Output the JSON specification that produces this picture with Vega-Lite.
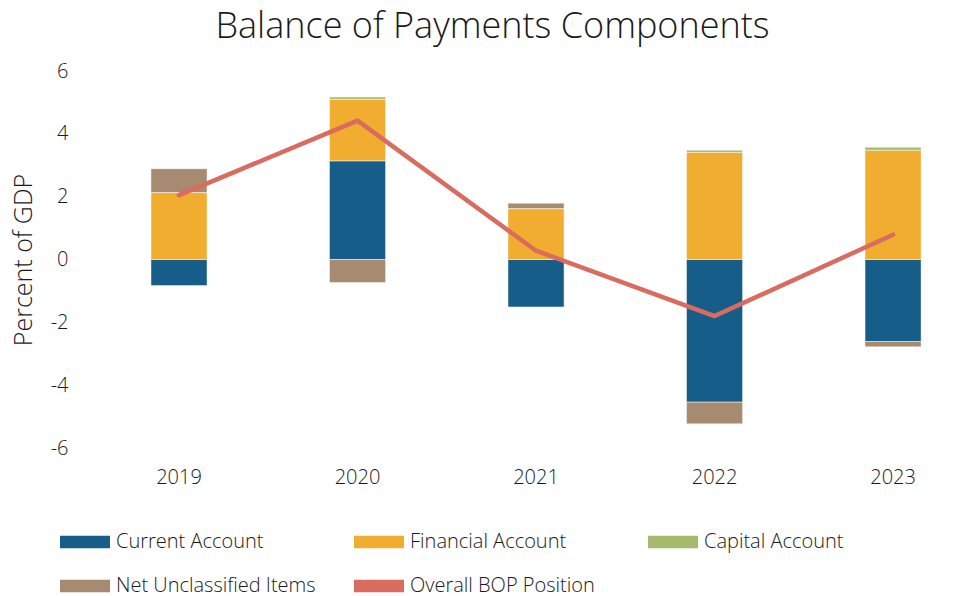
{
  "$schema": "https://vega.github.io/schema/vega-lite/v6.json",
  "width": 879,
  "height": 377,
  "autosize": {"type": "none"},
  "padding": {"left": 90, "top": 71, "right": 0, "bottom": 148},
  "background": "white",
  "config": {
    "font": "Open Sans",
    "view": {"stroke": null}
  },
  "title": {
    "text": "Balance of Payments Components",
    "fontSize": 36,
    "font": "Open Sans",
    "fontWeight": 300,
    "color": "#1a1a1a",
    "anchor": "middle",
    "dx": -37,
    "offset": 15
  },
  "datasets": {
    "bars": [
      {"year": "2019", "component": "Current Account", "ord": 1, "value": -0.83},
      {"year": "2019", "component": "Financial Account", "ord": 2, "value": 2.13},
      {"year": "2019", "component": "Capital Account", "ord": 3, "value": 0.0},
      {"year": "2019", "component": "Net Unclassified Items", "ord": 4, "value": 0.76},
      {"year": "2020", "component": "Current Account", "ord": 1, "value": 3.14},
      {"year": "2020", "component": "Financial Account", "ord": 2, "value": 1.96},
      {"year": "2020", "component": "Capital Account", "ord": 3, "value": 0.07},
      {"year": "2020", "component": "Net Unclassified Items", "ord": 4, "value": -0.73},
      {"year": "2021", "component": "Current Account", "ord": 1, "value": -1.51},
      {"year": "2021", "component": "Financial Account", "ord": 2, "value": 1.62},
      {"year": "2021", "component": "Capital Account", "ord": 3, "value": 0.0},
      {"year": "2021", "component": "Net Unclassified Items", "ord": 4, "value": 0.17},
      {"year": "2022", "component": "Current Account", "ord": 1, "value": -4.54},
      {"year": "2022", "component": "Financial Account", "ord": 2, "value": 3.41},
      {"year": "2022", "component": "Capital Account", "ord": 3, "value": 0.07},
      {"year": "2022", "component": "Net Unclassified Items", "ord": 4, "value": -0.69},
      {"year": "2023", "component": "Current Account", "ord": 1, "value": -2.61},
      {"year": "2023", "component": "Financial Account", "ord": 2, "value": 3.48},
      {"year": "2023", "component": "Capital Account", "ord": 3, "value": 0.09},
      {"year": "2023", "component": "Net Unclassified Items", "ord": 4, "value": -0.17}
    ],
    "bop": [
      {"year": "2019", "bop": 2.05},
      {"year": "2020", "bop": 4.42},
      {"year": "2021", "bop": 0.28},
      {"year": "2022", "bop": -1.8},
      {"year": "2023", "bop": 0.79}
    ]
  },
  "encoding": {
    "x": {
      "field": "year",
      "type": "nominal",
      "scale": {"paddingInner": 0.686, "paddingOuter": 0.305, "align": 0.56},
      "axis": {
        "title": null,
        "labelAngle": 0,
        "labelFontSize": 20,
        "labelFontWeight": 300,
        "labelColor": "#1a1a1a",
        "labelPadding": 19,
        "ticks": false,
        "domain": false,
        "grid": false
      }
    }
  },
  "layer": [
    {
      "data": {"name": "bars"},
      "mark": {"type": "bar", "stroke": "white", "strokeWidth": 0.75, "strokeOpacity": 0.6},
      "encoding": {
        "y": {
          "field": "value",
          "type": "quantitative",
          "stack": "zero",
          "scale": {"domain": [-6, 6], "nice": false, "zero": false},
          "axis": {
            "title": "Percent of GDP",
            "titleFontSize": 25,
            "titleFontWeight": 300,
            "titleColor": "#1a1a1a",
            "titlePadding": 14,
            "values": [-6, -4, -2, 0, 2, 4, 6],
            "labelExpr": "toString(datum.value)",
            "labelFontSize": 20,
            "labelFontWeight": 300,
            "labelColor": "#1a1a1a",
            "labelPadding": 22,
            "ticks": false,
            "domain": false,
            "grid": false
          }
        },
        "color": {
          "field": "component",
          "type": "nominal",
          "scale": {
            "domain": ["Current Account", "Financial Account", "Capital Account", "Net Unclassified Items", "Overall BOP Position"],
            "range": ["#165E89", "#F0AD30", "#A6BA6E", "#A68B71", "#D96B5F"]
          },
          "legend": {
            "title": null,
            "orient": "none",
            "legendX": -30,
            "legendY": 446,
            "direction": "horizontal",
            "columns": 3,
            "gridAlign": "all",
            "columnPadding": 38,
            "rowPadding": 9,
            "symbolSize": 2500,
            "symbolType": "M-1,-0.25H1V0.25H-1Z",
            "symbolStrokeWidth": 0,
            "symbolOpacity": 1,
            "labelFontSize": 20,
            "labelFontWeight": 300,
            "labelColor": "#1a1a1a",
            "labelOffset": 6,
            "labelLimit": 400,
            "encode": {
              "symbols": {
                "enter": {
                  "shape": {"signal": "datum.label === 'Overall BOP Position' ? 'M-0.95,-0.09H0.95A0.09,0.09 0 0 1 0.95,0.09H-0.95A0.09,0.09 0 0 1 -0.95,-0.09Z' : 'M-1,-0.25H1V0.25H-1Z'"}
                },
                "update": {
                  "shape": {"signal": "datum.label === 'Overall BOP Position' ? 'M-0.95,-0.09H0.95A0.09,0.09 0 0 1 0.95,0.09H-0.95A0.09,0.09 0 0 1 -0.95,-0.09Z' : 'M-1,-0.25H1V0.25H-1Z'"},
                  "fill": {"scale": "color", "field": "value"},
                  "fillOpacity": {"value": 1},
                  "strokeWidth": {"value": 0}
                }
              }
            }
          }
        },
        "order": {"field": "ord", "type": "quantitative"}
      }
    },
    {
      "data": {"name": "bop"},
      "mark": {"type": "rule", "color": "#D9D9D9", "strokeWidth": 2.5},
      "encoding": {"y": {"datum": 0, "type": "quantitative"}}
    },
    {
      "data": {"name": "bop"},
      "mark": {"type": "line", "strokeWidth": 4.5, "strokeCap": "round", "strokeJoin": "round"},
      "encoding": {
        "y": {"field": "bop", "type": "quantitative"},
        "color": {"datum": "Overall BOP Position"}
      }
    }
  ]
}
